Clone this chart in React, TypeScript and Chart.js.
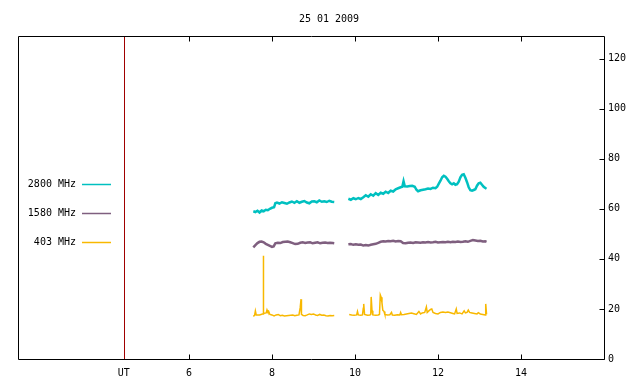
import React, { useEffect, useRef } from "react";
import { Chart, registerables } from "chart.js";

Chart.register(...registerables);

const titleText = "25 01 2009";
const utHour = 4.43;
const xMin = 1.88;
const xMax = 16.0;
const xTickHours = [6, 8, 10, 12, 14];
const yTicks = [0, 20, 40, 60, 80, 100, 120];
const yMax = 129;

const seriesNames = ["2800 MHz", "1580 MHz", "403 MHz"];
const seriesColors = ["#00c0c0", "#7f5f7f", "#f8b800"];

const hours2800 = [
  7.55, 7.6, 7.65, 7.7, 7.75, 7.8, 7.85, 7.9, 7.95, 8.0, 8.05, 8.08, 8.12, 8.18, 8.24, 8.3, 8.36, 8.42, 8.48, 8.54,
  8.6, 8.66, 8.72, 8.78, 8.84, 8.9, 8.96, 9.02, 9.08, 9.14, 9.2, 9.26, 9.32, 9.38, 9.44, 9.5,
  9.67,
  9.84, 9.9, 9.96, 10.02, 10.08, 10.14, 10.2, 10.26, 10.32, 10.38, 10.44, 10.5, 10.56, 10.62, 10.68, 10.74, 10.8,
  10.86, 10.92, 10.98, 11.04, 11.1, 11.14, 11.17, 11.2, 11.26, 11.32, 11.38, 11.44, 11.48, 11.52, 11.58, 11.64,
  11.7, 11.76, 11.82, 11.88, 11.94, 11.98, 12.02, 12.06, 12.1, 12.14, 12.18, 12.22, 12.26, 12.3, 12.34, 12.38,
  12.42, 12.46, 12.5, 12.54, 12.58, 12.62, 12.66, 12.7, 12.74, 12.78, 12.82, 12.86, 12.9, 12.94, 12.98, 13.02,
  13.06, 13.1, 13.14, 13.17,
];
const mhz2800 = [
  59.0, 58.7, 59.2, 58.5, 59.3, 59.0, 59.6, 59.4, 60.0, 60.4, 60.6, 62.2, 62.5, 62.1, 62.6, 62.3, 62.0, 62.5, 62.9, 62.4,
  63.0, 62.4, 62.8, 63.1, 62.5, 62.2, 62.9, 63.0, 62.6, 63.3, 62.8, 63.0, 62.7, 63.2, 62.8, 62.7,
  null,
  64.0, 63.6, 64.2, 63.8, 64.3, 63.9, 64.6, 65.4, 64.8, 65.8, 65.2, 66.2, 65.5, 66.4, 66.0, 66.8, 66.3,
  67.2, 66.9, 67.8, 68.2, 68.6, 68.8, 71.0, 69.0, 68.9, 69.1, 69.2, 68.8, 67.6, 67.0, 67.4, 67.6,
  67.8, 68.1, 67.9, 68.4, 68.2, 68.8, 70.0, 71.2, 72.6, 73.2, 72.8, 72.0, 71.0, 70.2, 69.8, 70.2,
  69.6, 69.8, 70.8, 72.6, 73.6, 73.8, 72.4, 70.6, 68.6, 67.4, 67.2, 67.5, 67.8, 69.2, 70.2, 70.4,
  69.6, 68.8, 68.3, 68.0,
];

const hours1580 = [
  7.55, 7.6, 7.65, 7.7, 7.75, 7.8, 7.85, 7.9, 7.95, 8.0, 8.04, 8.08, 8.14, 8.2, 8.26, 8.32, 8.38, 8.44, 8.5, 8.56,
  8.62, 8.68, 8.74, 8.8, 8.86, 8.92, 8.98, 9.04, 9.1, 9.16, 9.22, 9.28, 9.34, 9.4, 9.46, 9.5,
  9.67,
  9.84, 9.9, 9.96, 10.02, 10.08, 10.14, 10.2, 10.26, 10.32, 10.38, 10.44, 10.5, 10.56, 10.62, 10.68, 10.74, 10.8,
  10.86, 10.92, 10.98, 11.04, 11.1, 11.16, 11.22, 11.28, 11.34, 11.4, 11.46, 11.52, 11.58, 11.64, 11.7, 11.76,
  11.82, 11.88, 11.94, 12.0, 12.06, 12.12, 12.18, 12.24, 12.3, 12.36, 12.42, 12.48, 12.54, 12.6, 12.66, 12.72,
  12.78, 12.84, 12.9, 12.96, 13.02, 13.08, 13.14, 13.17,
];
const mhz1580 = [
  44.6, 45.5, 46.3, 46.8, 46.9, 46.6, 46.0, 45.6, 45.2, 44.8, 45.0, 46.2, 46.4, 46.3, 46.7, 46.8, 46.9, 46.6, 46.3, 45.9,
  46.0, 46.4, 46.6, 46.3, 46.5, 46.6, 46.2, 46.4, 46.6, 46.2, 46.4, 46.5, 46.3, 46.4, 46.3, 46.2,
  null,
  45.8, 45.9, 45.6, 45.8, 45.6, 45.7, 45.3, 45.5, 45.3, 45.6, 45.8, 46.0, 46.4, 46.8, 47.0, 46.9, 47.1,
  47.0, 47.2, 46.9, 47.1, 47.0, 46.3, 46.2, 46.4, 46.5, 46.3, 46.6, 46.5, 46.4, 46.6, 46.5, 46.7,
  46.5, 46.6, 46.8, 46.5, 46.6, 46.7, 46.6, 46.8, 46.6, 46.8, 46.7, 46.9, 46.7, 46.8, 47.0, 46.8,
  47.2, 47.5, 47.3, 47.1, 47.2, 46.9, 47.0, 46.8,
];

const hours403 = [
  7.55, 7.58, 7.6, 7.62, 7.7, 7.77, 7.785, 7.79, 7.8, 7.86, 7.88, 7.9, 7.92, 7.95, 8.0, 8.05, 8.1, 8.15, 8.2, 8.25,
  8.3, 8.4, 8.5, 8.55, 8.6, 8.65, 8.68, 8.7, 8.71, 8.75, 8.8, 8.85, 8.9, 8.95, 9.0, 9.05, 9.1, 9.15, 9.2, 9.25,
  9.3, 9.35, 9.4, 9.45, 9.5,
  9.67,
  9.86, 9.92, 9.98, 10.04, 10.06, 10.08, 10.14, 10.18, 10.2, 10.21, 10.23, 10.3, 10.36, 10.38, 10.39, 10.41, 10.43,
  10.5, 10.56, 10.59, 10.61, 10.63, 10.65, 10.67, 10.7, 10.72, 10.78, 10.84, 10.88, 10.9, 10.96, 11.02, 11.08,
  11.1, 11.12, 11.18, 11.24, 11.3, 11.36, 11.42, 11.48, 11.54, 11.58, 11.62, 11.68, 11.72, 11.74, 11.78, 11.82,
  11.85, 11.88, 11.94, 12.0, 12.06, 12.12, 12.18, 12.24, 12.3, 12.36, 12.4, 12.44, 12.46, 12.52, 12.58, 12.63,
  12.66, 12.7, 12.73, 12.76, 12.82, 12.88, 12.94, 12.97, 13.02, 13.08, 13.14, 13.15, 13.17,
];
const mhz403 = [
  17.0, 17.4, 19.2, 17.6, 17.6, 18.0, 18.0, 41.2, 18.2, 18.4, 19.6, 18.8, 19.0, 17.8, 17.6, 17.2, 17.6, 17.8, 17.3, 17.5,
  17.2, 17.4, 17.6, 17.3, 17.5, 17.6, 20.5, 23.9, 17.8, 17.4, 17.3, 17.6, 18.0, 17.8, 18.0, 17.6, 17.4, 17.8, 17.5, 17.6,
  17.3, 17.2, 17.4, 17.3, 17.4,
  null,
  17.8, 17.6, 17.5, 17.6, 19.0, 17.6, 17.5, 17.6, 20.3, 22.0, 17.8, 17.5, 17.6, 17.8, 24.8, 19.3, 17.6,
  17.5, 17.6, 17.8, 25.6, 24.7, 22.4, 19.5, 19.0, 17.8, 17.6, 17.7, 18.6, 17.6, 17.5, 17.7, 17.6,
  18.6, 17.7, 17.8, 18.0, 18.2, 18.4, 18.1, 17.8, 19.0, 18.0, 18.4, 18.6, 20.8, 18.6, 19.2, 19.8,
  20.0, 18.6, 18.2, 18.0, 18.6, 18.8, 18.6, 18.8, 18.5, 18.2, 18.0, 20.0, 18.2, 18.4, 18.0, 19.2,
  18.4, 18.6, 19.5, 18.6, 18.4, 18.2, 18.0, 18.5, 18.0, 17.8, 17.6, 22.0, 17.8,
];

const FONT = "'DejaVu Sans Mono', monospace";

function toPoints(xs: number[], ys: (number | null)[]) {
  return xs.map((x, i) => ({ x, y: ys[i] }));
}

const framePlugin = {
  id: "framePlugin",
  afterDraw(chart: any) {
    const ctx = chart.ctx;
    const { left, right, top, bottom } = chart.chartArea;
    const xs = chart.scales.x;
    const ys = chart.scales.y;
    const L = Math.round(left) + 0.5;
    const R = Math.round(right) + 0.5;
    const T = Math.round(top) + 0.5;
    const B = Math.round(bottom) + 0.5;
    ctx.save();
    const ux = Math.round(xs.getPixelForValue(utHour)) + 0.5;
    ctx.strokeStyle = "#a00000";
    ctx.lineWidth = 1;
    ctx.beginPath();
    ctx.moveTo(ux, T);
    ctx.lineTo(ux, B);
    ctx.stroke();
    ctx.strokeStyle = "#000";
    ctx.beginPath();
    ctx.rect(L, T, R - L, B - T);
    ctx.stroke();
    ctx.beginPath();
    xTickHours.forEach((h) => {
      const px = Math.round(xs.getPixelForValue(h)) + 0.5;
      ctx.moveTo(px, B);
      ctx.lineTo(px, B - 5);
      ctx.moveTo(px, T);
      ctx.lineTo(px, T + 5);
    });
    yTicks.forEach((v) => {
      const py = Math.round(ys.getPixelForValue(v)) + 0.5;
      ctx.moveTo(R, py);
      ctx.lineTo(R - 5, py);
    });
    ctx.stroke();
    const rows = [184, 213, 242];
    ctx.font = "10px " + FONT;
    ctx.textAlign = "right";
    ctx.textBaseline = "middle";
    chart.data.datasets.forEach((ds: any, i: number) => {
      const y = rows[i];
      ctx.fillStyle = "#000";
      ctx.fillText(ds.label, 76, y);
      ctx.strokeStyle = ds.borderColor;
      ctx.lineWidth = 1.5;
      ctx.beginPath();
      ctx.moveTo(82, y + 0.5);
      ctx.lineTo(111, y + 0.5);
      ctx.stroke();
    });
    ctx.restore();
  },
};

export default function App() {
  const canvasRef = useRef<HTMLCanvasElement | null>(null);

  useEffect(() => {
    if (!canvasRef.current) return;
    const datasets = [
      { label: seriesNames[0], data: toPoints(hours2800, mhz2800), borderColor: seriesColors[0], borderWidth: 2.5 },
      { label: seriesNames[1], data: toPoints(hours1580, mhz1580), borderColor: seriesColors[1], borderWidth: 2.5 },
      { label: seriesNames[2], data: toPoints(hours403, mhz403), borderColor: seriesColors[2], borderWidth: 1.5 },
    ].map((d) => ({ ...d, pointRadius: 0, tension: 0, spanGaps: false, fill: false }));

    const chart = new Chart(canvasRef.current, {
      type: "line",
      data: { datasets },
      plugins: [framePlugin],
      options: {
        animation: false,
        responsive: true,
        maintainAspectRatio: false,
        layout: { padding: { left: 18, right: 0, top: 0, bottom: 0 } },
        plugins: {
          legend: { display: false },
          tooltip: { enabled: false },
          title: {
            display: true,
            text: titleText,
            color: "#000",
            font: { family: FONT, size: 10, weight: "normal" },
            padding: { top: 13, bottom: 11 },
          },
        },
        scales: {
          x: {
            type: "linear",
            min: xMin,
            max: xMax,
            grid: { display: false, drawTicks: false },
            border: { display: false },
            afterBuildTicks: (scale: any) => {
              scale.ticks = [utHour, ...xTickHours].map((v) => ({ value: v }));
            },
            afterFit: (scale: any) => {
              scale.height = 25;
            },
            ticks: {
              autoSkip: false,
              maxRotation: 0,
              padding: 8,
              color: "#000",
              font: { family: FONT, size: 10 },
              callback: (v: any) => (v === utHour ? "UT" : String(v)),
            },
          },
          y: {
            type: "linear",
            position: "right",
            min: 0,
            max: yMax,
            grid: { display: false, drawTicks: false },
            border: { display: false },
            afterBuildTicks: (scale: any) => {
              scale.ticks = yTicks.map((v) => ({ value: v }));
            },
            afterFit: (scale: any) => {
              scale.width = 36;
            },
            ticks: {
              padding: 4,
              color: "#000",
              font: { family: FONT, size: 10 },
            },
          },
        },
      } as any,
    });
    return () => chart.destroy();
  }, []);

  return (
    <div style={{ position: "fixed", left: 0, top: 0, width: 640, height: 384, background: "#fff" }}>
      <canvas ref={canvasRef} />
    </div>
  );
}
